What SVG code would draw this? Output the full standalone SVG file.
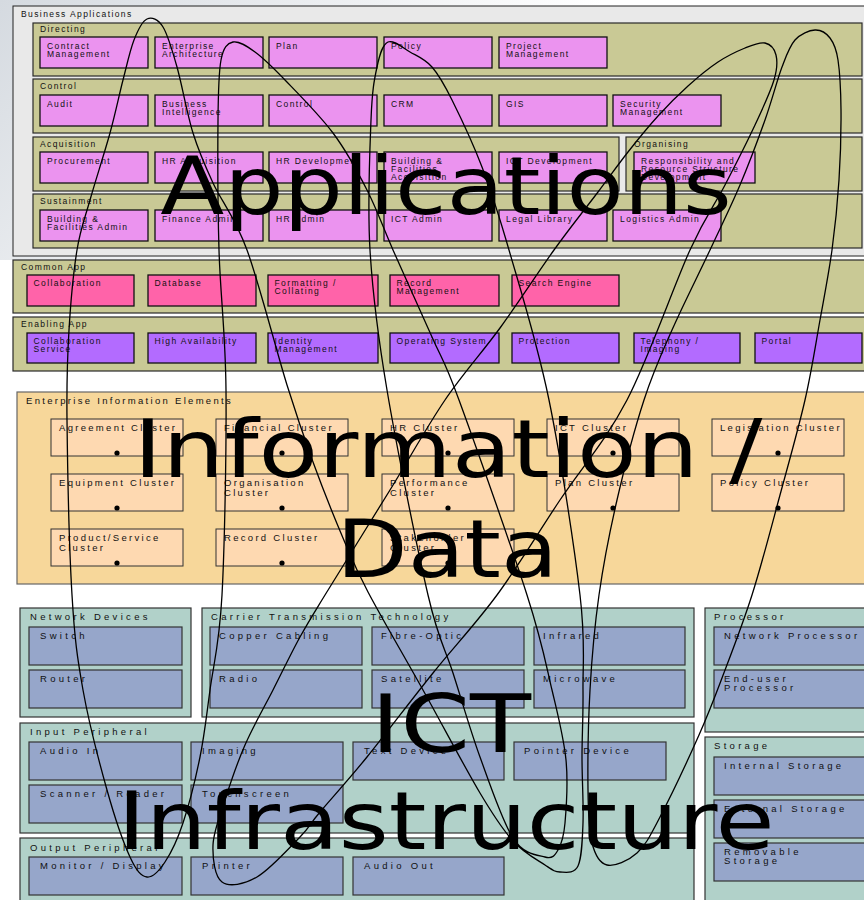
<svg xmlns="http://www.w3.org/2000/svg" width="864" height="900" viewBox="0 0 864 900">
<defs>
<linearGradient id="bg" x1="0" y1="0" x2="1" y2="1">
<stop offset="0" stop-color="#d5dae0"/>
<stop offset="0.35" stop-color="#ffffff"/>
</linearGradient>
<style>
.c{fill:#e9e9e9;stroke:#222;stroke-width:1}
.g{fill:#c9c995;stroke:#2a2a2a;stroke-width:1.2}
.a{fill:#eb93ef;stroke:#111;stroke-width:1.3}
.cm{fill:#ff63a9;stroke:#111;stroke-width:1.3}
.en{fill:#b36bff;stroke:#111;stroke-width:1.3}
.ie{fill:#f7d79a;stroke:#666;stroke-width:1.2}
.cl{fill:#fed9b1;stroke:#333;stroke-width:1}
.ic{fill:#b1d1c9;stroke:#333;stroke-width:1.2}
.dv{fill:#96a6ca;stroke:#333;stroke-width:1.2}
.dot{fill:#000}
text{font-family:"Liberation Sans",Arial,sans-serif;fill:#111}
.s{font-size:8.5px;letter-spacing:1.4px}
.m{font-size:9.5px;letter-spacing:2.3px}
.l{font-size:9.5px;letter-spacing:3.3px}
.big{font-family:"DejaVu Sans",sans-serif;font-size:80px;fill:#000;text-anchor:middle}
.e{fill:none;stroke:#000;stroke-width:1.3}
</style>
</defs>
<rect x="0" y="0" width="864" height="900" fill="url(#bg)"/>
<rect x="0" y="260" width="864" height="640" fill="#fff"/>

<g id="business-applications">
<rect class="c" x="13" y="6" width="860" height="250"/>
<text class="s" x="21" y="17">Business Applications</text>
</g>

<g id="directing">
<rect class="g" x="33" y="23" width="829" height="53"/>
<text class="s" x="40" y="32">Directing</text>
</g>
<g id="contract-management"><rect class="a" x="40" y="37" width="108" height="31"/><text class="s"><tspan x="47" y="48.5">Contract</tspan><tspan x="47" y="56.8">Management</tspan></text></g>
<g id="enterprise-architecture"><rect class="a" x="155" y="37" width="108" height="31"/><text class="s"><tspan x="162" y="48.5">Enterprise</tspan><tspan x="162" y="56.8">Architecture</tspan></text></g>
<g id="plan"><rect class="a" x="269" y="37" width="108" height="31"/><text class="s" x="276" y="48.5">Plan</text></g>
<g id="policy"><rect class="a" x="384" y="37" width="108" height="31"/><text class="s" x="391" y="48.5">Policy</text></g>
<g id="project-management"><rect class="a" x="499" y="37" width="108" height="31"/><text class="s"><tspan x="506" y="48.5">Project</tspan><tspan x="506" y="56.8">Management</tspan></text></g>

<g id="control-group">
<rect class="g" x="33" y="79" width="829" height="54"/>
<text class="s" x="40" y="89">Control</text>
</g>
<g id="audit"><rect class="a" x="40" y="95" width="108" height="31"/><text class="s" x="47" y="106.5">Audit</text></g>
<g id="business-intelligence"><rect class="a" x="155" y="95" width="108" height="31"/><text class="s"><tspan x="162" y="106.5">Business</tspan><tspan x="162" y="114.8">Intelligence</tspan></text></g>
<g id="control"><rect class="a" x="269" y="95" width="108" height="31"/><text class="s" x="276" y="106.5">Control</text></g>
<g id="crm"><rect class="a" x="384" y="95" width="108" height="31"/><text class="s" x="391" y="106.5">CRM</text></g>
<g id="gis"><rect class="a" x="499" y="95" width="108" height="31"/><text class="s" x="506" y="106.5">GIS</text></g>
<g id="security-management"><rect class="a" x="613" y="95" width="108" height="31"/><text class="s"><tspan x="620" y="106.5">Security</tspan><tspan x="620" y="114.8">Management</tspan></text></g>

<g id="acquisition">
<rect class="g" x="33" y="137" width="586" height="54"/>
<text class="s" x="40" y="147">Acquisition</text>
</g>
<g id="procurement"><rect class="a" x="40" y="152" width="108" height="31"/><text class="s" x="47" y="163.5">Procurement</text></g>
<g id="hr-acquisition"><rect class="a" x="155" y="152" width="108" height="31"/><text class="s" x="162" y="163.5">HR Acquisition</text></g>
<g id="hr-development"><rect class="a" x="269" y="152" width="108" height="31"/><text class="s" x="276" y="163.5">HR Development</text></g>
<g id="building-facilities-acquisition"><rect class="a" x="384" y="152" width="108" height="31"/><text class="s"><tspan x="391" y="163.5">Building &amp;</tspan><tspan x="391" y="171.8">Facilities</tspan><tspan x="391" y="180.1">Acquisition</tspan></text></g>
<g id="ict-development"><rect class="a" x="499" y="152" width="108" height="31"/><text class="s" x="506" y="163.5">ICT Development</text></g>

<g id="organising">
<rect class="g" x="626" y="137" width="236" height="54"/>
<text class="s" x="634" y="147">Organising</text>
</g>
<g id="responsibility-resource-structure"><rect class="a" x="634" y="152" width="121" height="31"/><text class="s"><tspan x="641" y="163.5">Responsibility and</tspan><tspan x="641" y="171.8">Resource Structure</tspan><tspan x="641" y="180.1">Development</tspan></text></g>

<g id="sustainment">
<rect class="g" x="33" y="194" width="829" height="54"/>
<text class="s" x="40" y="204">Sustainment</text>
</g>
<g id="building-facilities-admin"><rect class="a" x="40" y="210" width="108" height="31"/><text class="s"><tspan x="47" y="221.5">Building &amp;</tspan><tspan x="47" y="229.8">Facilities Admin</tspan></text></g>
<g id="finance-admin"><rect class="a" x="155" y="210" width="108" height="31"/><text class="s" x="162" y="221.5">Finance Admin</text></g>
<g id="hr-admin"><rect class="a" x="269" y="210" width="108" height="31"/><text class="s" x="276" y="221.5">HR Admin</text></g>
<g id="ict-admin"><rect class="a" x="384" y="210" width="108" height="31"/><text class="s" x="391" y="221.5">ICT Admin</text></g>
<g id="legal-library"><rect class="a" x="499" y="210" width="108" height="31"/><text class="s" x="506" y="221.5">Legal Library</text></g>
<g id="logistics-admin"><rect class="a" x="613" y="210" width="108" height="31"/><text class="s" x="620" y="221.5">Logistics Admin</text></g>

<g id="common-app">
<rect class="g" x="13" y="260" width="860" height="53"/>
<text class="s" x="21" y="270">Common App</text>
</g>
<g id="collaboration"><rect class="cm" x="27" y="275" width="107" height="31"/><text class="s" x="33.5" y="285.5">Collaboration</text></g>
<g id="database"><rect class="cm" x="148" y="275" width="108" height="31"/><text class="s" x="154.5" y="285.5">Database</text></g>
<g id="formatting-collating"><rect class="cm" x="268" y="275" width="110" height="31"/><text class="s"><tspan x="274.5" y="285.5">Formatting /</tspan><tspan x="274.5" y="293.8">Collating</tspan></text></g>
<g id="record-management"><rect class="cm" x="390" y="275" width="109" height="31"/><text class="s"><tspan x="396.5" y="285.5">Record</tspan><tspan x="396.5" y="293.8">Management</tspan></text></g>
<g id="search-engine"><rect class="cm" x="512" y="275" width="107" height="31"/><text class="s" x="518.5" y="285.5">Search Engine</text></g>

<g id="enabling-app">
<rect class="g" x="13" y="317" width="860" height="54"/>
<text class="s" x="21" y="327">Enabling App</text>
</g>
<g id="collaboration-service"><rect class="en" x="27" y="333" width="107" height="30"/><text class="s"><tspan x="33.5" y="343.5">Collaboration</tspan><tspan x="33.5" y="351.8">Service</tspan></text></g>
<g id="high-availability"><rect class="en" x="148" y="333" width="108" height="30"/><text class="s" x="154.5" y="343.5">High Availability</text></g>
<g id="identity-management"><rect class="en" x="268" y="333" width="110" height="30"/><text class="s"><tspan x="274.5" y="343.5">Identity</tspan><tspan x="274.5" y="351.8">Management</tspan></text></g>
<g id="operating-system"><rect class="en" x="390" y="333" width="109" height="30"/><text class="s" x="396.5" y="343.5">Operating System</text></g>
<g id="protection"><rect class="en" x="512" y="333" width="107" height="30"/><text class="s" x="518.5" y="343.5">Protection</text></g>
<g id="telephony-imaging"><rect class="en" x="634" y="333" width="106" height="30"/><text class="s"><tspan x="640.5" y="343.5">Telephony /</tspan><tspan x="640.5" y="351.8">Imaging</tspan></text></g>
<g id="portal"><rect class="en" x="755" y="333" width="107" height="30"/><text class="s" x="761.5" y="343.5">Portal</text></g>

<g id="enterprise-information-elements">
<rect class="ie" x="17" y="392" width="860" height="192"/>
<text class="m" x="26" y="404">Enterprise Information Elements</text>
</g>
<g id="agreement-cluster"><rect class="cl" x="51" y="419" width="132" height="37"/><text class="m" x="59" y="431">Agreement Cluster</text><circle class="dot" cx="117" cy="453" r="2.6"/></g>
<g id="financial-cluster"><rect class="cl" x="216" y="419" width="132" height="37"/><text class="m" x="224" y="431">Financial Cluster</text><circle class="dot" cx="282" cy="453" r="2.6"/></g>
<g id="hr-cluster"><rect class="cl" x="382" y="419" width="132" height="37"/><text class="m" x="390" y="431">HR Cluster</text><circle class="dot" cx="448" cy="453" r="2.6"/></g>
<g id="ict-cluster"><rect class="cl" x="547" y="419" width="132" height="37"/><text class="m" x="555" y="431">ICT Cluster</text><circle class="dot" cx="613" cy="453" r="2.6"/></g>
<g id="legislation-cluster"><rect class="cl" x="712" y="419" width="132" height="37"/><text class="m" x="720" y="431">Legislation Cluster</text><circle class="dot" cx="778" cy="453" r="2.6"/></g>
<g id="equipment-cluster"><rect class="cl" x="51" y="474" width="132" height="37"/><text class="m" x="59" y="486">Equipment Cluster</text><circle class="dot" cx="117" cy="508" r="2.6"/></g>
<g id="organisation-cluster"><rect class="cl" x="216" y="474" width="132" height="37"/><text class="m"><tspan x="224" y="486">Organisation</tspan><tspan x="224" y="495.7">Cluster</tspan></text><circle class="dot" cx="282" cy="508" r="2.6"/></g>
<g id="performance-cluster"><rect class="cl" x="382" y="474" width="132" height="37"/><text class="m"><tspan x="390" y="486">Performance</tspan><tspan x="390" y="495.7">Cluster</tspan></text><circle class="dot" cx="448" cy="508" r="2.6"/></g>
<g id="plan-cluster"><rect class="cl" x="547" y="474" width="132" height="37"/><text class="m" x="555" y="486">Plan Cluster</text><circle class="dot" cx="613" cy="508" r="2.6"/></g>
<g id="policy-cluster"><rect class="cl" x="712" y="474" width="132" height="37"/><text class="m" x="720" y="486">Policy Cluster</text><circle class="dot" cx="778" cy="508" r="2.6"/></g>
<g id="product-service-cluster"><rect class="cl" x="51" y="529" width="132" height="37"/><text class="m"><tspan x="59" y="541">Product/Service</tspan><tspan x="59" y="550.7">Cluster</tspan></text><circle class="dot" cx="117" cy="563" r="2.6"/></g>
<g id="record-cluster"><rect class="cl" x="216" y="529" width="132" height="37"/><text class="m" x="224" y="541">Record Cluster</text><circle class="dot" cx="282" cy="563" r="2.6"/></g>
<g id="stakeholder-cluster"><rect class="cl" x="382" y="529" width="132" height="37"/><text class="m"><tspan x="390" y="541">Stakeholder</tspan><tspan x="390" y="550.7">Cluster</tspan></text><circle class="dot" cx="448" cy="563" r="2.6"/></g>

<g id="network-devices">
<rect class="ic" x="20" y="608" width="171" height="109"/>
<text class="l" x="30" y="619.5">Network Devices</text>
</g>
<g id="switch"><rect class="dv" x="29" y="627" width="153" height="38"/><text class="l" x="40" y="639.3">Switch</text></g>
<g id="router"><rect class="dv" x="29" y="670" width="153" height="38"/><text class="l" x="40" y="682.3">Router</text></g>

<g id="carrier-transmission-technology">
<rect class="ic" x="202" y="608" width="492" height="109"/>
<text class="l" x="211" y="619.5">Carrier Transmission Technology</text>
</g>
<g id="copper-cabling"><rect class="dv" x="210" y="627" width="152" height="38"/><text class="l" x="219" y="639.3">Copper Cabling</text></g>
<g id="fibre-optic"><rect class="dv" x="372" y="627" width="152" height="38"/><text class="l" x="381" y="639.3">Fibre-Optic</text></g>
<g id="infrared"><rect class="dv" x="534" y="627" width="151" height="38"/><text class="l" x="543" y="639.3">Infrared</text></g>
<g id="radio"><rect class="dv" x="210" y="670" width="152" height="38"/><text class="l" x="219" y="682.3">Radio</text></g>
<g id="satellite"><rect class="dv" x="372" y="670" width="152" height="38"/><text class="l" x="381" y="682.3">Satellite</text></g>
<g id="microwave"><rect class="dv" x="534" y="670" width="151" height="38"/><text class="l" x="543" y="682.3">Microwave</text></g>

<g id="processor">
<rect class="ic" x="705" y="608" width="170" height="124"/>
<text class="l" x="714" y="619.5">Processor</text>
</g>
<g id="network-processor"><rect class="dv" x="714" y="627" width="160" height="38"/><text class="l" x="724" y="639.3">Network Processor</text></g>
<g id="end-user-processor"><rect class="dv" x="714" y="670" width="160" height="38"/><text class="l"><tspan x="724" y="682.3">End-user</tspan><tspan x="724" y="691">Processor</tspan></text></g>

<g id="input-peripheral">
<rect class="ic" x="20" y="723" width="674" height="110"/>
<text class="l" x="30" y="735">Input Peripheral</text>
</g>
<g id="audio-in"><rect class="dv" x="29" y="742" width="153" height="38"/><text class="l" x="40" y="754.3">Audio In</text></g>
<g id="imaging"><rect class="dv" x="191" y="742" width="152" height="38"/><text class="l" x="202" y="754.3">Imaging</text></g>
<g id="text-device"><rect class="dv" x="353" y="742" width="151" height="38"/><text class="l" x="364" y="754.3">Text Device</text></g>
<g id="pointer-device"><rect class="dv" x="514" y="742" width="152" height="38"/><text class="l" x="524" y="754.3">Pointer Device</text></g>
<g id="scanner-reader"><rect class="dv" x="29" y="785" width="153" height="38"/><text class="l" x="40" y="797.3">Scanner / Reader</text></g>
<g id="touchscreen"><rect class="dv" x="191" y="785" width="152" height="38"/><text class="l" x="202" y="797.3">Touchscreen</text></g>

<g id="output-peripheral">
<rect class="ic" x="20" y="838" width="674" height="80"/>
<text class="l" x="30" y="850.5">Output Peripheral</text>
</g>
<g id="monitor-display"><rect class="dv" x="29" y="857" width="153" height="38"/><text class="l" x="40" y="869.3">Monitor / Display</text></g>
<g id="printer"><rect class="dv" x="191" y="857" width="152" height="38"/><text class="l" x="202" y="869.3">Printer</text></g>
<g id="audio-out"><rect class="dv" x="353" y="857" width="151" height="38"/><text class="l" x="364" y="869.3">Audio Out</text></g>

<g id="storage">
<rect class="ic" x="705" y="737" width="170" height="180"/>
<text class="l" x="714" y="748.5">Storage</text>
</g>
<g id="internal-storage"><rect class="dv" x="714" y="757" width="160" height="38"/><text class="l" x="724" y="769.3">Internal Storage</text></g>
<g id="external-storage"><rect class="dv" x="714" y="800" width="160" height="38"/><text class="l" x="724" y="812.3">External Storage</text></g>
<g id="removable-storage"><rect class="dv" x="714" y="843" width="160" height="38"/><text class="l"><tspan x="724" y="855">Removable</tspan><tspan x="724" y="864.3">Storage</tspan></text></g>

<g id="applications-label"><text class="big" transform="translate(446,214) scale(1.17,1)" x="0" y="0">Applications</text></g>
<g id="information-data-label">
<text class="big" transform="translate(448,477) scale(1.22,1)" x="0" y="0">Information /</text>
<text class="big" transform="translate(447,577) scale(1.16,1)" x="0" y="0">Data</text>
</g>
<g id="ict-infrastructure-label">
<text class="big" transform="translate(451,752) scale(1.25,1)" x="0" y="0" font-size="83">ICT</text>
<text class="big" transform="translate(446,849) scale(1.2,1)" x="0" y="0">Infrastructure</text>
</g>

<g id="connectors">
<path class="e" d="M147,19 C142.2,21.2 138,29.8 134,40 S127,64.5 123,80 S115.5,113 110,133 S95.5,180.5 90,200 S80.5,228.3 77,250 S70.7,301.7 69,330 S66.5,375.8 67,420 S69.3,550 72,595 S77.2,657.5 83,690 S99.2,762.2 107,790 S123.3,842.5 130,857 S141.2,876.2 147,877 S159,871 165,862 S177.2,840.5 183,823 S195.5,779.2 200,757 S206.3,717 210,690 S219.3,645 222,595 S226.5,447.5 226,390 S220.3,295 219,250 S217.7,151.7 218,120 S218.5,73 221,60 S227.3,43.3 233,42 S246.3,45.7 255,52 S272,66.5 285,80 S319.3,114.7 333,133 S357,170.5 367,190 S382.2,225.5 393,250 S421,312 432,337 S443.2,357 459,400 S511.5,546.7 527,595 S545.5,662.5 552,690 S563.8,737.8 566,760 S566.3,808 565,823 S561.3,844.3 558,850 S552.5,859 545,857 S523.8,854.7 513,838 S490,784.5 480,757 S461.7,700 453,673 S439,642.2 428,595 S396.7,447.5 387,390 S372.7,295 370,250 S369.8,150.5 371,120 S374.2,80 377,67 S382.5,44.5 388,42 S402.7,47.8 410,52 S425,59 432,67 S443.7,83.3 452,100 S472.5,142 482,167 S497.8,211.2 509,250 S537.2,342.5 549,400 S574.3,546.7 580,595 S582.7,663 583,690 S582,734.8 582,757 S583.7,804.8 583,823 S581.8,857.8 578,866 S565.5,872.2 560,872 S552.8,870.2 545,865 S523.8,853 513,841 S495,818.2 480,793 S441.7,723.5 423,690 S381.3,617.3 368,592 S352.2,559.7 343,538 S322.3,487.5 313,462 S298,420.3 287,385 S259.3,283.7 247,250 S222,202.5 213,183 S199,152.3 193,133 S182,84.7 177,67 S168,35 163,27 S151.8,16.8 147,19 Z"/>
<path class="e" d="M765,43 C759.8,41.8 752.8,44.8 745,48 S727.5,55.7 718,62 S698,77 688,86 S668,105 658,116 S638,139.3 628,152 S610.3,175.7 598,192 S570.3,227.3 554,250 S518.2,303 500,328 S463.3,373 445,400 S410,457.5 390,490 S340,570.5 325,595 S308.7,621.2 300,637 S282.2,672 273,690 S253,726.7 245,745 S230.3,783.3 225,800 S213.5,831.3 213,845 S214.7,876.7 222,882 S244,884.5 257,877 S289.5,847.8 300,837 S308.8,825.3 320,812 S348.2,780.2 367,757 S411.3,700 433,673 S475.8,623.8 497,595 S538.3,532.5 560,500 S605.3,441.7 627,400 S673.7,285.8 690,250 S714.2,205.8 725,185 S746.8,142.5 755,125 S770.5,91.7 774,80 S777.5,61.2 776,55 S770.2,44.2 765,43 Z"/>
<path class="e" d="M815,30 C809.2,30.3 800.5,33.8 795,40 S787,53.7 782,67 S772,100.3 765,120 S749.2,163.3 740,185 S721.3,225.8 710,250 S683,305 672,330 S653.2,371.7 644,400 S624.5,467.5 617,500 S603.5,563.3 599,595 S591.8,657.5 590,690 S587.7,764.5 588,790 S588.8,830.5 592,843 S599.5,863.3 607,865 S628.2,861 637,853 S649.7,836.7 660,817 S688.7,758.2 699,735 S713.2,701.3 722,678 S742.3,625.5 752,595 S771.2,527.5 780,495 S798.3,429.2 805,400 S815.5,345 820,320 S828.8,273.3 832,250 S837.5,203.3 839,180 S841.2,130 841,110 S839.8,72 838,60 S833.8,43 830,38 S820.8,29.7 815,30 Z"/>
</g>
</svg>
